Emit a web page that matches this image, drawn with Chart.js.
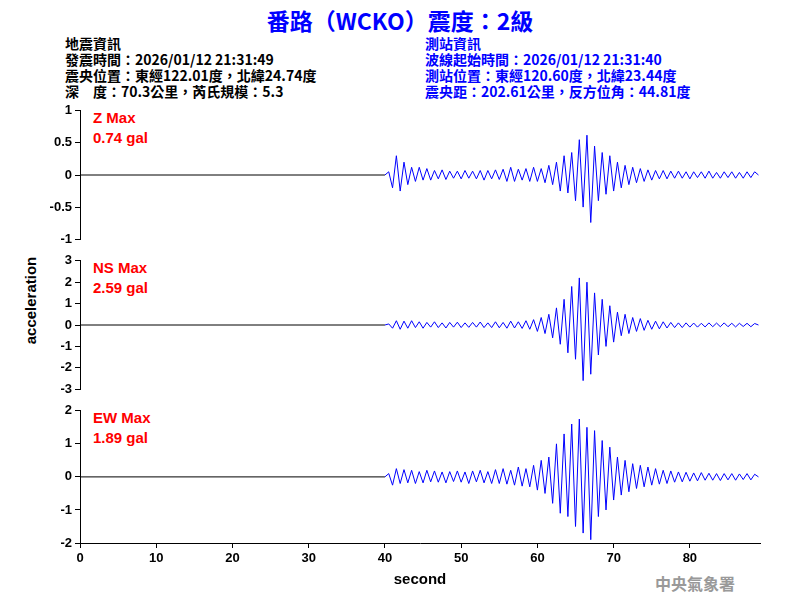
<!DOCTYPE html>
<html>
<head>
<meta charset="utf-8">
<script src="https://cdn.jsdelivr.net/npm/chart.js@4"></script>
<style>
body{margin:0;width:800px;height:600px;background:#fff;position:relative;overflow:hidden;font-family:"Liberation Sans",Arial,sans-serif}
canvas{position:absolute;left:0}
.t{position:absolute;white-space:nowrap;font-weight:bold}
.info{font-family:"Noto Sans CJK TC","Liberation Sans",sans-serif;font-size:14px;line-height:16px;font-weight:bold}
.mx{color:#f00;font-size:15px;line-height:20px;font-weight:bold}
</style>
</head>
<body>
<div class="t" style="left:0;width:800px;top:3px;text-align:center;color:#00f;font-size:23px;font-family:'Noto Sans CJK TC','Liberation Sans',sans-serif">番路（WCKO）震度：2級</div>
<div class="t info" style="left:65px;top:35px;color:#000">地震資訊<br>發震時間：2026/01/12 21:31:49<br>震央位置：東經122.01度，北緯24.74度<br>深　度：70.3公里，芮氏規模：5.3</div>
<div class="t info" style="left:425px;top:35px;color:#00f">測站資訊<br>波線起始時間：2026/01/12 21:31:40<br>測站位置：東經120.60度，北緯23.44度<br>震央距：202.61公里，反方位角：44.81度</div>
<div class="t mx" style="left:93px;top:108px">Z Max<br>0.74 gal</div>
<div class="t mx" style="left:93px;top:258px">NS Max<br>2.59 gal</div>
<div class="t mx" style="left:93px;top:408px">EW Max<br>1.89 gal</div>
<div class="t" style="left:-25px;top:292px;width:110px;text-align:center;transform:rotate(-90deg);font-size:15px">acceleration</div>
<div class="t" style="left:655px;top:571px;color:#999;font-size:16px;font-family:'Noto Sans CJK TC',serif">中央氣象署</div>
<canvas id="cz" width="800" height="150" style="top:100px"></canvas>
<canvas id="cn" width="800" height="150" style="top:250px"></canvas>
<canvas id="ce" width="800" height="200" style="top:400px"></canvas>
<script>
const startTime = 40, step = 0.5
const endTime = 89.2
const zValues = [0,0.05,-0.2,0.3,-0.25,0.2,-0.15,0.12,-0.1,0.12,-0.08,0.1,-0.08,0.07,-0.06,0.08,-0.07,0.06,-0.05,0.06,
  -0.06,0.07,-0.05,0.06,-0.06,0.07,-0.08,0.07,-0.06,0.08,-0.07,0.09,-0.1,0.12,-0.1,0.09,-0.08,0.1,-0.1,0.12,
  -0.1,0.1,-0.12,0.15,-0.15,0.2,-0.25,0.3,-0.28,0.35,-0.4,0.55,-0.5,0.62,-0.74,0.45,-0.4,0.35,-0.3,0.3,
  -0.25,0.2,-0.2,0.15,-0.15,0.12,-0.12,0.1,-0.1,0.08,-0.08,0.07,-0.06,0.07,-0.06,0.06,-0.05,0.06,-0.05,0.05,
  -0.06,0.05,-0.04,0.05,-0.05,0.06,-0.05,0.04,-0.05,0.05,-0.04,0.05,-0.05,0.04,-0.05,0.05,-0.04,0.05,0]
const nsValues = [0,0.05,-0.15,0.2,-0.2,0.18,-0.15,0.2,-0.12,0.15,-0.15,0.12,-0.1,0.15,-0.12,0.1,-0.14,0.12,-0.1,0.13,
  -0.12,0.1,-0.11,0.12,-0.1,0.14,-0.12,0.1,-0.12,0.15,-0.13,0.12,-0.15,0.18,-0.14,0.15,-0.16,0.2,-0.2,0.25,
  -0.3,0.35,-0.4,0.5,-0.6,0.8,-0.9,1.2,-1.3,1.8,-1.6,2.2,-2.6,2.0,-2.3,1.5,-1.4,1.2,-1.0,0.9,
  -0.8,0.6,-0.5,0.5,-0.4,0.35,-0.3,0.3,-0.25,0.22,-0.2,0.18,-0.18,0.15,-0.14,0.12,-0.12,0.1,-0.12,0.1,
  -0.1,0.09,-0.1,0.08,-0.09,0.1,-0.08,0.09,-0.08,0.1,-0.08,0.08,-0.09,0.08,-0.07,0.08,-0.08,0.07,0]
const ewValues = [0,0.1,-0.25,0.25,-0.2,0.22,-0.18,0.2,-0.2,0.16,-0.18,0.2,-0.15,0.18,-0.16,0.15,-0.18,0.16,-0.14,0.18,
  -0.16,0.15,-0.2,0.18,-0.15,0.2,-0.18,0.16,-0.2,0.22,-0.2,0.25,-0.22,0.2,-0.25,0.3,-0.28,0.25,-0.3,0.35,
  -0.4,0.5,-0.5,0.6,-0.8,1.0,-1.1,1.3,-1.2,1.6,-1.5,1.75,-1.7,1.5,-1.9,1.4,-1.2,1.1,-1.0,0.9,
  -0.7,0.6,-0.55,0.5,-0.45,0.4,-0.35,0.35,-0.3,0.3,-0.25,0.25,-0.22,0.2,-0.2,0.18,-0.16,0.15,-0.15,0.14,
  -0.13,0.12,-0.12,0.13,-0.1,0.11,-0.1,0.1,-0.11,0.1,-0.09,0.1,-0.1,0.09,-0.08,0.1,-0.09,0.08,0]
const zTicks = [1, 0.5, 0, -0.5, -1]
const nsTicks = [3, 2, 1, 0, -1, -2, -3]
const ewTicks = [2, 1, 0, -1, -2]
const xTicks = [0, 10, 20, 30, 40, 50, 60, 70, 80]

const font = {family: '"Liberation Sans", Arial, sans-serif', size: 13, weight: 'bold'}

function toPoints(values){
    return values.map((v, i) => ({x: startTime + i * step, y: v}))
}

function drawTrace(id, values, ticks, lim, showX){
    const ctx = document.getElementById(id)
    new Chart(ctx, {
        type: 'line',
        data: {
            datasets: [{
                data: [{x: 0, y: 0}, {x: startTime, y: 0}],
                borderColor: '#000', borderWidth: 1, pointRadius: 0
            }, {
                data: toPoints(values),
                borderColor: '#00f', borderWidth: 1, pointRadius: 0, tension: 0
            }]
        },
        options: {
            responsive: false, animation: false,
            layout: {padding: {top: 8, bottom: 7, right: 40}},
            plugins: {legend: {display: false}, tooltip: {enabled: false}},
            scales: {
                x: {
                    type: 'linear', min: 0, max: endTime, display: showX,
                    afterBuildTicks: s => { s.ticks = xTicks.map(v => ({value: v})) },
                    afterFit: s => { if(showX) s.height = 50 },
                    grid: {drawOnChartArea: false, tickLength: 5, color: '#000'},
                    border: {color: '#000'},
                    ticks: {color: '#000', font, autoSkip: false, maxRotation: 0},
                    title: {display: true, text: 'second', color: '#000', font: {...font, size: 15}, padding: {top: 2}}
                },
                y: {
                    min: -lim, max: lim,
                    afterBuildTicks: s => { s.ticks = ticks.map(v => ({value: v})) },
                    afterFit: s => { s.width = 80 },
                    grid: {drawOnChartArea: false, tickLength: 5, color: '#000'},
                    border: {color: '#000'},
                    ticks: {color: '#000', font, autoSkip: false, callback: v => String(v)}
                }
            }
        }
    })
}

drawTrace('cz', zValues, zTicks, 1, false)
drawTrace('cn', nsValues, nsTicks, 3, false)
drawTrace('ce', ewValues, ewTicks, 2, true)
</script>
</body>
</html>
